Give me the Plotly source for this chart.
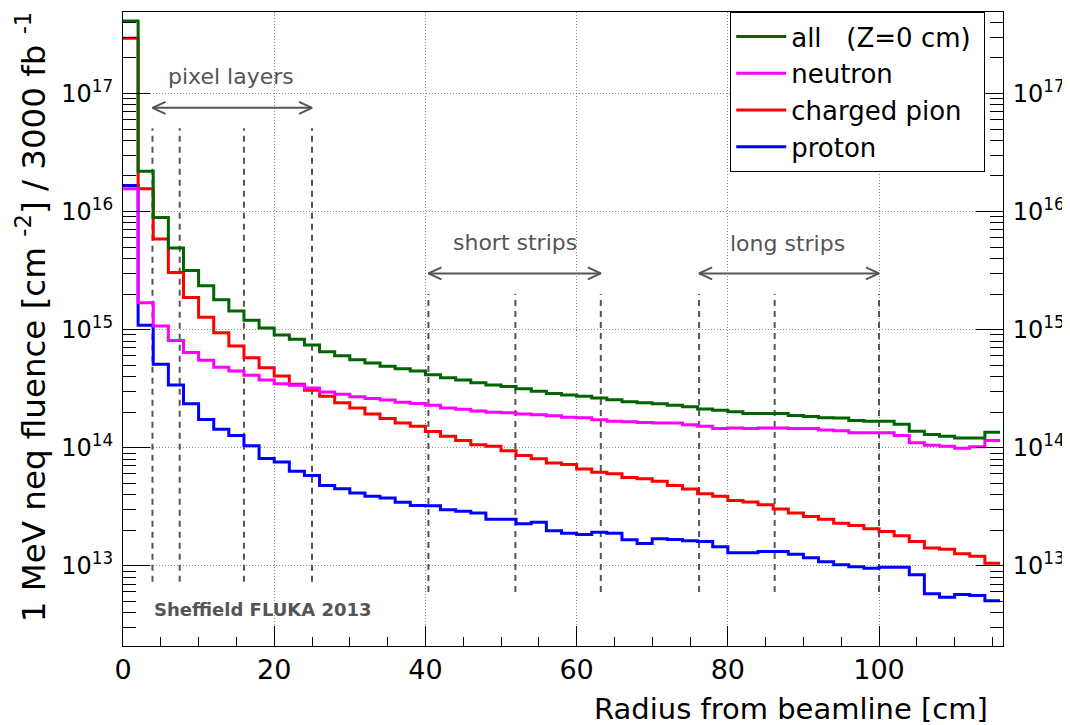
import plotly.graph_objects as go

# radial bins of 2 cm, 0 - 116 cm
radius_edges = list(range(0, 118, 2))

# 1 MeV neq fluence per bin [cm^-2 / 3000 fb^-1]
fluence_all = [4.1e17, 2.19e16, 8.9e15, 4.9e15, 3.16e15, 2.35e15, 1.79e15, 1.44e15, 1.2e15, 1.03e15,
               9.0e14, 8.3e14, 7.4e14, 6.5e14, 6.0e14, 5.56e14, 5.2e14, 4.9e14, 4.67e14, 4.46e14,
               4.15e14, 3.9e14, 3.74e14, 3.55e14, 3.39e14, 3.3e14, 3.15e14, 3.0e14, 2.88e14, 2.79e14,
               2.73e14, 2.64e14, 2.54e14, 2.45e14, 2.4e14, 2.35e14, 2.29e14, 2.22e14, 2.13e14, 2.07e14,
               2.01e14, 1.95e14, 1.95e14, 1.95e14, 1.87e14, 1.84e14, 1.79e14, 1.78e14, 1.7e14, 1.67e14,
               1.67e14, 1.58e14, 1.38e14, 1.29e14, 1.25e14, 1.21e14, 1.21e14, 1.35e14]
fluence_neutron = [1.56e16, 1.69e15, 1.07e15, 8.1e14, 6.4e14, 5.5e14, 4.8e14, 4.46e14, 4.1e14, 3.74e14,
                   3.48e14, 3.37e14, 3.2e14, 2.96e14, 2.83e14, 2.7e14, 2.61e14, 2.53e14, 2.43e14, 2.37e14,
                   2.29e14, 2.17e14, 2.11e14, 2.04e14, 1.99e14, 1.98e14, 1.93e14, 1.9e14, 1.86e14, 1.81e14,
                   1.79e14, 1.72e14, 1.67e14, 1.66e14, 1.63e14, 1.62e14, 1.62e14, 1.56e14, 1.52e14, 1.45e14,
                   1.47e14, 1.45e14, 1.47e14, 1.47e14, 1.45e14, 1.45e14, 1.41e14, 1.39e14, 1.34e14, 1.34e14,
                   1.34e14, 1.27e14, 1.1e14, 1.05e14, 1.03e14, 9.9e13, 1.02e14, 1.15e14]
fluence_pion = [2.93e17, 1.56e16, 5.86e15, 3.05e15, 1.87e15, 1.27e15, 9.4e14, 7.27e14, 5.78e14, 4.75e14,
                4.05e14, 3.44e14, 3.06e14, 2.73e14, 2.4e14, 2.17e14, 1.93e14, 1.77e14, 1.62e14, 1.52e14,
                1.37e14, 1.25e14, 1.15e14, 1.06e14, 1.03e14, 9.4e13, 8.6e13, 8.07e13, 7.4e13, 7.2e13,
                6.6e13, 6.2e13, 6.0e13, 5.6e13, 5.46e13, 5.2e13, 4.77e13, 4.46e13, 4.07e13, 3.87e13,
                3.57e13, 3.46e13, 3.29e13, 3.02e13, 2.79e13, 2.61e13, 2.48e13, 2.29e13, 2.19e13, 2.06e13,
                1.95e13, 1.79e13, 1.6e13, 1.41e13, 1.38e13, 1.26e13, 1.2e13, 1.05e13]
fluence_proton = [1.66e16, 1.09e15, 5.08e14, 3.39e14, 2.35e14, 1.73e14, 1.43e14, 1.27e14, 1.04e14, 8.08e13,
                  7.56e13, 6.3e13, 5.8e13, 4.79e13, 4.49e13, 4.12e13, 3.87e13, 3.74e13, 3.44e13, 3.24e13,
                  3.22e13, 2.98e13, 2.89e13, 2.79e13, 2.48e13, 2.48e13, 2.27e13, 2.34e13, 1.98e13, 1.88e13,
                  1.84e13, 1.92e13, 1.88e13, 1.66e13, 1.54e13, 1.69e13, 1.67e13, 1.63e13, 1.6e13, 1.45e13,
                  1.29e13, 1.29e13, 1.32e13, 1.32e13, 1.25e13, 1.17e13, 1.08e13, 1.02e13, 9.8e12, 9.5e12,
                  9.7e12, 9.7e12, 8.4e12, 5.8e12, 5.4e12, 5.7e12, 5.6e12, 5.06e12]

# detector layer radii [cm]
pixel_layers = [3.9, 7.5, 16.0, 25.0]
short_strips = [40.4, 51.9, 63.2]
long_strips = [76.2, 86.2, 100.0]

y_ticks = [1e13, 1e14, 1e15, 1e16, 1e17]
y_ticktext = ["10<sup>13</sup>", "10<sup>14</sup>", "10<sup>15</sup>", "10<sup>16</sup>", "10<sup>17</sup>"]
y_minor = [k * 10 ** e for e in range(12, 18) for k in range(2, 10)]
y_minor = [v for v in y_minor if 2.1e12 < v < 4.9e17]
y_range = [12.32, 17.69]

FONT = "DejaVu Sans"
GREY = "#555555"

fig = go.Figure()

# dashed markers for the layer radii (vertical extents in fluence units)
def dashed(layers, lo, hi):
    xs, ys = [], []
    for r in layers:
        xs += [r, r, None]
        ys += [lo, hi, None]
    return go.Scatter(x=xs, y=ys, mode="lines", showlegend=False, hoverinfo="skip",
                      line=dict(color=GREY, width=2, dash="6px,5px"))

fig.add_trace(dashed(pixel_layers, 7.3e12, 5.07e16))
fig.add_trace(dashed(short_strips + long_strips, 6.0e12, 2.0e15))

# double headed arrows above each group
head_dx = 1.72   # cm
head_f = 1.124   # factor in fluence
groups = [(pixel_layers, 7.55e16, "pixel layers", 14.3, 17.14),
          (short_strips, 2.99e15, "short strips", 51.8, 15.739),
          (long_strips, 2.99e15, "long strips", 87.9, 15.73)]
annotations = []
for layers, yv, label, tx, ty in groups:
    a, b = layers[0], layers[-1]
    fig.add_trace(go.Scatter(
        x=[a, b, None, a + head_dx, a, a + head_dx, None, b - head_dx, b, b - head_dx],
        y=[yv, yv, None, yv * head_f, yv, yv / head_f, None, yv * head_f, yv, yv / head_f],
        mode="lines", showlegend=False, hoverinfo="skip", line=dict(color=GREY, width=2)))
    annotations.append(dict(x=tx, y=ty, xref="x", yref="y", text=label, showarrow=False,
                            font=dict(family=FONT, size=22, color=GREY)))

series = [("proton", fluence_proton, "#0000ff", 4),
          ("charged pion", fluence_pion, "#ff0000", 3),
          ("neutron", fluence_neutron, "#ff00ff", 2),
          ("all\u00a0\u00a0\u00a0(Z=0 cm)\u00a0", fluence_all, "#006400", 1)]
for name, vals, colour, rank in series:
    fig.add_trace(go.Scatter(x=radius_edges, y=vals + [vals[-1]], mode="lines",
                             line=dict(color=colour, width=3, shape="hv"),
                             name=name, legendrank=rank))

# dummy trace so the right hand axis is drawn
fig.add_trace(go.Scatter(x=[None], y=[None], yaxis="y2", showlegend=False))

annotations.append(dict(x=0.033, y=0.057, xref="paper", yref="paper", xanchor="left", yanchor="middle",
                        text="<b>Sheffield FLUKA 2013</b>", showarrow=False,
                        font=dict(family=FONT, size=18, color=GREY)))
annotations.append(dict(x=0.985, y=-0.1, xref="paper", yref="paper", xanchor="right", yanchor="middle",
                        text="Radius from beamline [cm]", showarrow=False,
                        font=dict(family=FONT, size=29, color="black")))
annotations.append(dict(x=-0.103, y=1.004, xref="paper", yref="paper", xanchor="center", yanchor="top",
                        textangle=-90, showarrow=False,
                        text="1 MeV neq fluence [cm <sup>-2</sup>] / 3000 fb <sup>-1</sup>",
                        font=dict(family=FONT, size=32.5, color="black")))

yaxis_common = dict(type="log", range=y_range, tickmode="array", tickvals=y_ticks, ticktext=y_ticktext,
                    ticks="inside", ticklen=27, tickcolor="black", showline=True, linecolor="black",
                    linewidth=1, tickfont=dict(family=FONT, size=24, color="black"),
                    ticklabelstandoff=4,
                    minor=dict(tickmode="array", tickvals=y_minor, ticks="inside", ticklen=13,
                               tickcolor="black", showgrid=False),
                    zeroline=False)

# the page body has an 8 px margin, so the figure is sized to fit the window
fig.update_layout(
    width=1062, height=717,
    margin=dict(l=115, r=67, t=4, b=79),
    plot_bgcolor="white", paper_bgcolor="white",
    font=dict(family=FONT, color="black"),
    xaxis=dict(range=[0, 116.4], tickmode="array", tickvals=[0, 20, 40, 60, 80, 100],
               ticks="inside", ticklen=20, tickcolor="black", showline=True, mirror=True,
               linecolor="black", linewidth=1, showgrid=True, gridcolor="#909090", griddash="1px,2px",
               gridwidth=1, zeroline=False, tickfont=dict(family=FONT, size=27, color="black"),
               minor=dict(dtick=5, ticks="inside", ticklen=9, tickcolor="black", showgrid=False)),
    yaxis=dict(**yaxis_common, side="left", showgrid=True, gridcolor="#909090", griddash="1px,2px",
               gridwidth=1),
    yaxis2=dict(**yaxis_common, side="right", overlaying="y", showgrid=False),
    legend=dict(x=0.69, y=1.0, xanchor="left", yanchor="top", bgcolor="white",
                bordercolor="black", borderwidth=1, font=dict(family=FONT, size=26, color="black"),
                itemwidth=50, tracegroupgap=0),
    annotations=annotations,
)

fig.write_html("out.html")
